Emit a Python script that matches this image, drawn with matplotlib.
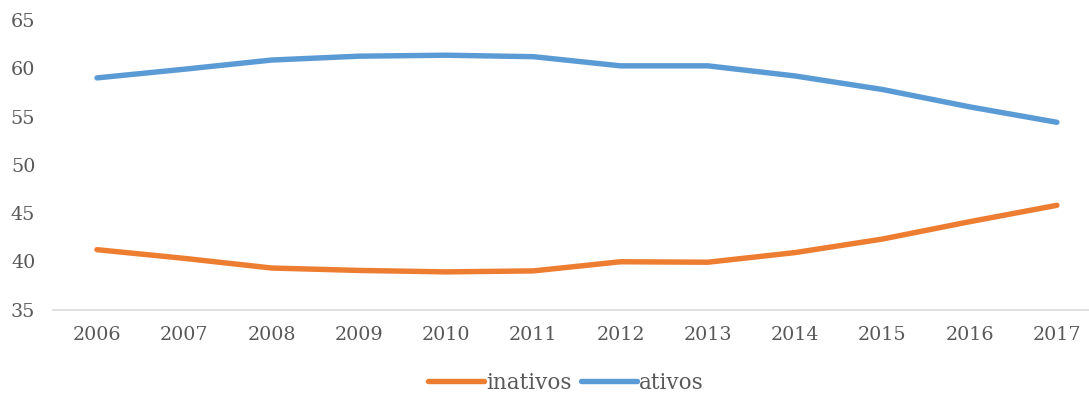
import numpy as np
import matplotlib
matplotlib.use("Agg")
import matplotlib.pyplot as plt

# share of population, %
years = ["2006", "2007", "2008", "2009", "2010", "2011",
         "2012", "2013", "2014", "2015", "2016", "2017"]
inativos = [41.2, 40.3, 39.3, 39.05, 38.9, 39.0, 39.95, 39.9, 40.9, 42.3, 44.1, 45.8]
ativos = [59.0, 59.9, 60.85, 61.25, 61.35, 61.2, 60.25, 60.25, 59.2, 57.8, 56.0, 54.4]

ORANGE = "#ED7D31"
BLUE = "#5B9BD5"
TXT = "#595959"

plt.rcParams["font.family"] = ["DejaVu Serif"]

fig = plt.figure(figsize=(10.89, 3.96), dpi=100)
ax = fig.add_axes([0.049, 0.2184, 0.9616, 0.7311])

x = np.arange(len(years))
ax.plot(x, inativos, color=ORANGE, lw=3.9, solid_capstyle="round", solid_joinstyle="round", label="inativos")
ax.plot(x, ativos, color=BLUE, lw=3.9, solid_capstyle="round", solid_joinstyle="round", label="ativos")

ax.set_xlim(-0.5, len(years) - 0.5)
ax.set_ylim(35, 65)
ax.set_yticks(range(35, 66, 5))
ax.set_xticks(x)
ax.set_xticklabels(years)

for s in ["top", "right", "left"]:
    ax.spines[s].set_visible(False)
ax.spines["bottom"].set_color("#D9D9D9")
ax.spines["bottom"].set_linewidth(1.2)
ax.tick_params(axis="both", length=0, labelsize=13.8, colors=TXT)
ax.tick_params(axis="y", pad=13)
ax.tick_params(axis="x", pad=12)

leg = fig.legend(loc="center", bbox_to_anchor=(566 / 1089, 1 - 383 / 396), ncol=2,
                 frameon=False, fontsize=15.5, handlelength=2.6, handletextpad=0.1,
                 columnspacing=0.45)
for t in leg.get_texts():
    t.set_color(TXT)

fig.savefig("out.png", dpi=100)
